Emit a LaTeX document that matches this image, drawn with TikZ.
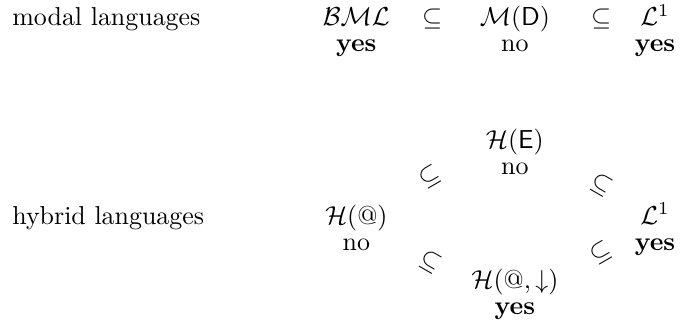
\documentclass[tikz,border=0pt]{standalone}
\usepackage{amsmath,amssymb}
\usetikzlibrary{positioning}
\tikzset{
  lang/.style={anchor=base, inner sep=0pt},
  verdict/.style={anchor=base, inner sep=0pt},
  incl/.style={inner sep=0pt},
}
\begin{document}
\begin{tikzpicture}
  \useasboundingbox (0cm,0cm) rectangle (9.3cm,4.46cm);
  % modal languages
  \node[lang, anchor=base west] (modal) at (0.16cm,4.11cm) {modal languages};
  \node[lang] (bml) at (4.83cm,4.11cm) {$\mathcal{BML}$};
  \node[verdict] (bmlv) at ([yshift=-10pt]bml.base) {\textbf{yes}};
  \node[lang] (subA) at (5.86cm,4.11cm) {$\subseteq$};
  \node[lang] (md) at (6.98cm,4.11cm) {$\mathcal{M}(\mathsf{D})$};
  \node[verdict] (mdv) at ([yshift=-10pt]md.base) {no};
  \node[lang] (subB) at (8.15cm,4.11cm) {$\subseteq$};
  \node[lang] (fo) at (8.88cm,4.11cm) {$\mathcal{L}^1$};
  \node[verdict] (fov) at ([yshift=-10pt]fo.base) {\textbf{yes}};
  % hybrid languages
  \node[lang, anchor=base west] (hybrid) at (0.16cm,1.42cm) {hybrid languages};
  \node[lang] (hat) at (4.83cm,1.42cm) {$\mathcal{H}(@)$};
  \node[verdict] (hatv) at ([yshift=-10pt]hat.base) {no};
  \node[lang] (he) at (6.98cm,2.45cm) {$\mathcal{H}(\mathsf{E})$};
  \node[verdict] (hev) at ([yshift=-10pt]he.base) {no};
  \node[lang] (hdown) at (6.98cm,0.55cm) {$\mathcal{H}(@,\downarrow)$};
  \node[verdict] (hdownv) at ([yshift=-10pt]hdown.base) {\textbf{yes}};
  \node[lang] (fohy) at (8.88cm,1.42cm) {$\mathcal{L}^1$};
  \node[verdict] (fohyv) at ([yshift=-10pt]fohy.base) {\textbf{yes}};
  % strict inclusions
  \node[incl, rotate=30] (inclUL) at (5.83cm,2.06cm) {$\subseteq$};
  \node[incl, rotate=-30] (inclLL) at (5.83cm,0.91cm) {$\subseteq$};
  \node[incl, rotate=-30] (inclUR) at (8.15cm,1.95cm) {$\subseteq$};
  \node[incl, rotate=30] (inclLR) at (8.15cm,1.03cm) {$\subseteq$};
\end{tikzpicture}
\end{document}
